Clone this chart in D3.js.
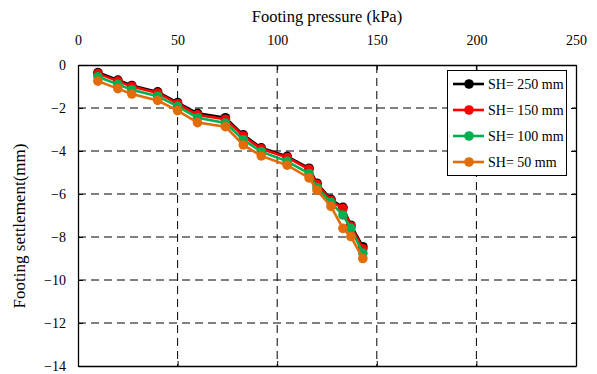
<!DOCTYPE html>
<html><head><meta charset="utf-8">
<script src="https://cdn.jsdelivr.net/npm/d3@7"></script>
<style>body{margin:0;background:#fff}svg{display:block}</style>
</head><body>
<script>
const pressure = [10, 20, 27, 40, 50, 60, 74, 83, 92, 105, 116, 120, 127, 133, 137, 143];
const sh250 = [-0.35, -0.7, -0.95, -1.25, -1.75, -2.25, -2.45, -3.25, -3.85, -4.25, -4.8, -5.5, -6.25, -6.62, -7.45, -8.45];
const sh150 = [-0.4, -0.75, -1.0, -1.3, -1.8, -2.32, -2.52, -3.3, -3.9, -4.3, -4.85, -5.55, -6.3, -6.68, -7.5, -8.55];
const sh100 = [-0.55, -0.9, -1.15, -1.45, -1.92, -2.45, -2.7, -3.48, -4.03, -4.48, -5.05, -5.7, -6.4, -6.98, -7.6, -8.75];
const sh50 = [-0.75, -1.1, -1.35, -1.65, -2.12, -2.68, -2.87, -3.72, -4.23, -4.66, -5.25, -5.82, -6.58, -7.6, -7.98, -9.0];
const seriesNames = ["SH= 250 mm", "SH= 150 mm", "SH= 100 mm", "SH= 50 mm"];
const seriesColors = ["#000000", "#ff0000", "#00b050", "#e36c0a"];
const xTicks = [0, 50, 100, 150, 200, 250];
const yTicks = [0, -2, -4, -6, -8, -10, -12, -14];

const W = 597, H = 374;
const L = 78, R = 576, T = 65, B = 366;
const svg = d3.select("body").append("svg").attr("width", W).attr("height", H);
const x = d3.scaleLinear().domain([0, 250]).range([L, R]);
const y = d3.scaleLinear().domain([0, -14]).range([T, B]);
const font = "'Liberation Serif', 'Times New Roman', serif";

// grid
const g = svg.append("g");
g.selectAll("line.vx").data(xTicks.slice(1, -1)).join("line")
  .attr("x1", d => x(d)).attr("x2", d => x(d)).attr("y1", T).attr("y2", B)
  .attr("stroke", "#000").attr("stroke-width", 1).attr("stroke-dasharray", "8,5");
g.selectAll("line.hy").data(yTicks.slice(1, -1)).join("line")
  .attr("y1", d => y(d)).attr("y2", d => y(d)).attr("x1", L).attr("x2", R)
  .attr("stroke", "#000").attr("stroke-width", 1).attr("stroke-dasharray", "8,5");

// axes
const axTop = d3.axisTop(x).tickValues(xTicks).tickSizeInner(-5).tickSizeOuter(0).tickPadding(20);
const axLeft = d3.axisLeft(y).tickValues(yTicks).tickSizeInner(-5).tickSizeOuter(0).tickPadding(12);
const axRight = d3.axisRight(y).tickValues(yTicks).tickSizeInner(-5).tickSizeOuter(0).tickFormat("");
const axBottom = d3.axisBottom(x).tickValues(xTicks).tickSizeInner(-5).tickSizeOuter(0).tickFormat("");
function styleAx(sel){
  sel.attr("font-family", font);
  sel.selectAll("path").attr("stroke", "#000").attr("stroke-width", 1.3);
  sel.selectAll("line").attr("stroke", "#000");
  sel.selectAll("text").attr("font-family", font).attr("font-size", 14).attr("fill", "#000");
}
svg.append("g").attr("transform", `translate(0,${T})`).call(axTop).call(styleAx);
svg.append("g").attr("transform", `translate(0,${B})`).call(axBottom).call(styleAx);
svg.append("g").attr("transform", `translate(${L},0)`).call(axLeft).call(styleAx);
svg.append("g").attr("transform", `translate(${R},0)`).call(axRight).call(styleAx);

// titles
svg.append("text").attr("x", 327).attr("y", 22).attr("text-anchor", "middle")
  .attr("font-family", font).attr("font-size", 16.5).text("Footing pressure (kPa)");
svg.append("text").attr("transform", `translate(25,226) rotate(-90)`).attr("text-anchor", "middle")
  .attr("font-family", font).attr("font-size", 17).text("Footing settlement(mm)");

// series
const allSeries = [sh250, sh150, sh100, sh50];
const line = d3.line().x((d, i) => x(pressure[i])).y(d => y(d));
allSeries.forEach((vals, k) => {
  const sg = svg.append("g");
  sg.append("path").datum(vals).attr("d", line).attr("fill", "none")
    .attr("stroke", seriesColors[k]).attr("stroke-width", 2.6);
  sg.selectAll("circle").data(vals).join("circle")
    .attr("cx", (d, i) => x(pressure[i])).attr("cy", d => y(d)).attr("r", 4.8)
    .attr("fill", seriesColors[k]);
});

// legend
const lg = svg.append("g");
lg.append("rect").attr("x", 447.5).attr("y", 70.5).attr("width", 119).attr("height", 105)
  .attr("fill", "#fff").attr("stroke", "#000").attr("stroke-width", 1);
seriesNames.forEach((n, k) => {
  const yy = 84 + k * 26;
  lg.append("line").attr("x1", 453).attr("x2", 484).attr("y1", yy).attr("y2", yy)
    .attr("stroke", seriesColors[k]).attr("stroke-width", 2.6);
  lg.append("circle").attr("cx", 469).attr("cy", yy).attr("r", 4.8).attr("fill", seriesColors[k]);
  lg.append("text").attr("x", 488).attr("y", yy + 5).attr("font-family", font)
    .attr("font-size", 14).text(n);
});
</script>
</body></html>
